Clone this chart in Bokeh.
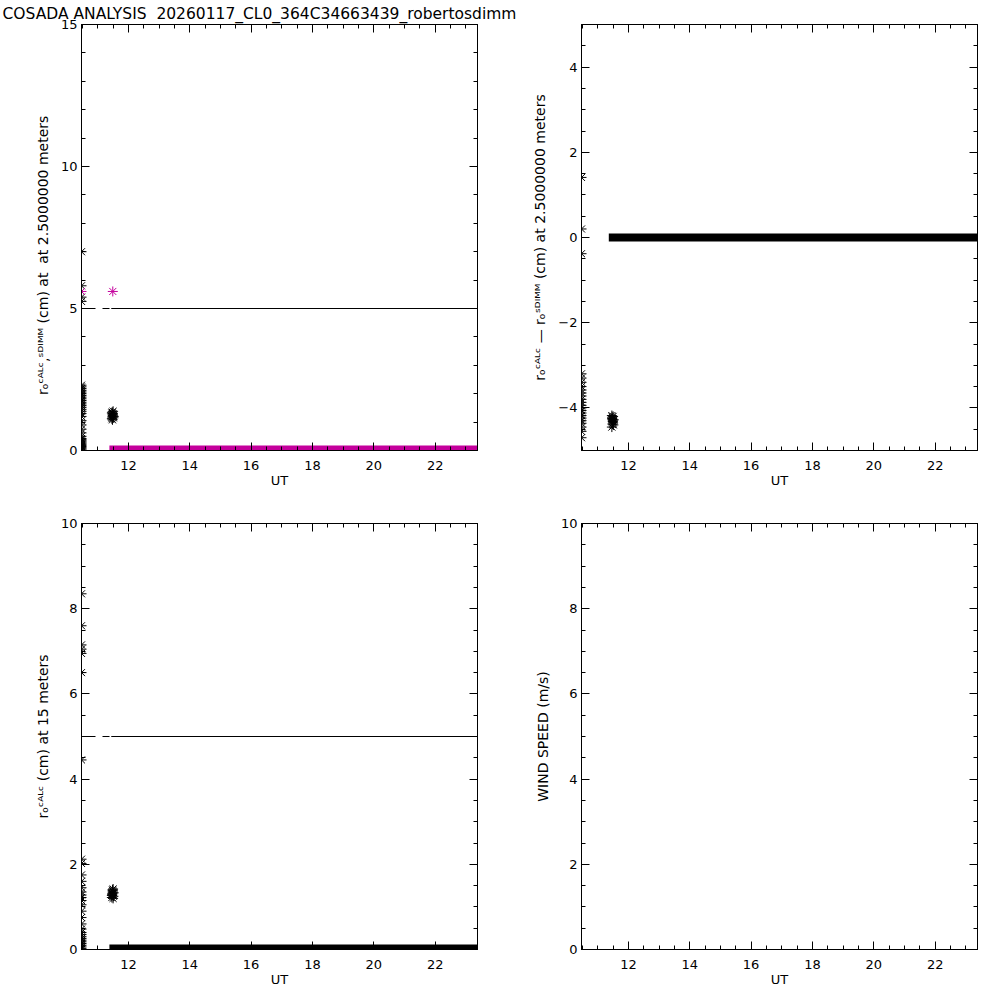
from bokeh.plotting import figure
from bokeh.models import Range1d, LinearAxis, SingleIntervalTicker
from bokeh.layouts import gridplot
from bokeh.embed import file_html
from bokeh.resources import INLINE

# ---------------- data ----------------
TITLE = "COSADA ANALYSIS\u00a0 20260117_CL0_364C34663439_robertosdimm"
UT_MIN, UT_MAX = 10.47, 23.38
THRESHOLD = 5.0
thr_dash_ut = [10.47, 11.44]
thr_solid_ut = [11.44, 23.38]

YLABEL_1 = ("r\u2092\u1d9c\u1d2c\u1d38\u1d9c,\u02e2\u1d30\u1d35\u1d39\u1d39 (cm) at\u00a0 at 2.5000000 meters"
            + "\u00a0" * 8)
YLABEL_2 = "r\u2092\u1d9c\u1d2c\u1d38\u1d9c \u2014 r\u2092\u02e2\u1d30\u1d35\u1d39\u1d39 (cm) at 2.5000000 meters"
YLABEL_3 = "r\u2092\u1d9c\u1d2c\u1d38\u1d9c (cm) at 15 meters"
YLABEL_4 = "WIND SPEED (m/s)"
XLABEL = "UT"

# panel 1: r0 CALC,SDIMM at 2.5 m
p1_edge_black_y = [0.02, 0.06, 0.10, 0.14, 0.18, 0.22, 0.26, 0.30, 0.34, 0.38, 0.42,
                   0.50, 0.62, 0.75, 0.90, 1.05, 1.20, 1.30, 1.38, 1.45, 1.52, 1.58,
                   1.64, 1.70, 1.76, 1.82, 1.88, 1.94, 2.00, 2.06, 2.12, 2.18, 2.24,
                   2.30, 5.25, 5.40, 5.80, 7.00]
p1_edge_magenta_y = [5.60]
cluster_ut = [11.46, 11.47, 11.48, 11.49, 11.50, 11.51, 11.47, 11.49, 11.50, 11.48, 11.52, 11.46]
p1_cluster_y = [1.12, 1.18, 1.25, 1.30, 1.22, 1.15, 1.35, 1.28, 1.38, 1.08, 1.20, 1.32]
p1_magenta_ut = [11.49]
p1_magenta_y = [5.60]
p1_band_ut = [11.38, 23.38]
p1_band_y = [0.0, 0.0]

# panel 2: r0 CALC - r0 SDIMM
p2_edge_y = [1.41, 0.20, -0.38, -3.20, -3.30, -3.40, -3.50, -3.58, -3.65, -3.72, -3.80,
             -3.87, -3.94, -4.00, -4.06, -4.12, -4.18, -4.24, -4.30, -4.36, -4.45,
             -4.55, -4.70]
p2_cluster_y = [-4.18, -4.22, -4.27, -4.30, -4.35, -4.40, -4.25, -4.32, -4.20, -4.38, -4.28, -4.45]
p2_band_ut = [11.36, 23.38]
p2_band_y = [0.0, 0.0]

# panel 3: r0 CALC at 15 m
p3_edge_y = [0.02, 0.06, 0.10, 0.14, 0.18, 0.22, 0.26, 0.30, 0.35, 0.40, 0.48, 0.60,
             0.75, 0.90, 1.05, 1.15, 1.22, 1.28, 1.35, 1.45, 1.60, 1.75, 2.02, 2.12,
             4.45, 6.50, 6.95, 7.05, 7.15, 7.60, 8.35]
p3_cluster_y = [1.22, 1.28, 1.32, 1.38, 1.42, 1.25, 1.30, 1.35, 1.20, 1.40, 1.33, 1.27]
p3_band_ut = [11.38, 23.38]
p3_band_y = [0.0, 0.0]

# panel 4: wind speed (no data)
wind_ut = []
wind_speed = []

MAGENTA = "#C4009C"
FONT = "DejaVu Sans"


def style_ticks(ax):
    ax.major_tick_in = 8
    ax.major_tick_out = 0
    ax.minor_tick_in = 4
    ax.minor_tick_out = 0
    ax.axis_line_color = "black"
    ax.major_tick_line_color = "black"
    ax.minor_tick_line_color = "black"


def make_fig(yr, y_interval, y_minor, ylabel, left, right, top, bottom):
    p = figure(frame_width=396, frame_height=426, output_backend="svg",
               toolbar_location=None, x_range=Range1d(UT_MIN, UT_MAX),
               y_range=Range1d(*yr), min_border_left=left, min_border_right=right,
               min_border_top=top, min_border_bottom=bottom,
               background_fill_color="white", border_fill_color="white")
    p.grid.visible = False
    p.outline_line_color = "black"
    p.xaxis.ticker = SingleIntervalTicker(interval=2, num_minor_ticks=4)
    p.yaxis.ticker = SingleIntervalTicker(interval=y_interval, num_minor_ticks=y_minor)
    for ax in (p.xaxis[0], p.yaxis[0]):
        style_ticks(ax)
        ax.major_label_text_font = FONT
        ax.major_label_text_font_size = "13px"
        ax.major_label_text_color = "black"
        ax.axis_label_text_font = FONT
        ax.axis_label_text_font_style = "normal"
        ax.axis_label_text_color = "black"
    p.xaxis.major_label_standoff = 10
    p.yaxis.major_label_standoff = 4
    p.xaxis.axis_label = XLABEL
    p.xaxis.axis_label_text_font_size = "13px"
    p.xaxis.axis_label_standoff = 0
    p.yaxis.axis_label = ylabel
    p.yaxis.axis_label_text_font_size = "14px"
    p.yaxis.axis_label_standoff = 7
    for side, (iv, nm) in (("above", (2, 4)), ("right", (y_interval, y_minor))):
        ax = LinearAxis(ticker=SingleIntervalTicker(interval=iv, num_minor_ticks=nm))
        style_ticks(ax)
        ax.major_label_text_font_size = "1px"
        ax.major_label_text_color = None
        ax.major_label_text_alpha = 0
        ax.major_label_standoff = 0
        p.add_layout(ax, side)
    return p


def stars(p, x, y, color):
    p.scatter(x, y, marker="x", size=10, line_color=color, line_width=1)
    p.scatter(x, y, marker="cross", size=10, line_color=color, line_width=1)


def threshold(p):
    p.line(thr_dash_ut, [THRESHOLD, THRESHOLD], line_color="black", line_width=1,
           line_dash="14 7 7 3")
    p.line(thr_solid_ut, [THRESHOLD, THRESHOLD], line_color="black", line_width=1)


# ---------- panel 1 ----------
p1 = make_fig((0, 15), 5, 5, YLABEL_1, 81, 49, 24, 57)
p1.title.text = TITLE
p1.title.align = "left"
p1.title.offset = -79
p1.title.standoff = 4
p1.title.text_font = FONT
p1.title.text_font_size = "15.5px"
p1.title.text_font_style = "normal"
p1.title.text_color = "black"
threshold(p1)
p1.line(p1_band_ut, p1_band_y, line_color=MAGENTA, line_width=10)
stars(p1, [UT_MIN] * len(p1_edge_black_y), p1_edge_black_y, "black")
stars(p1, [UT_MIN] * len(p1_edge_magenta_y), p1_edge_magenta_y, MAGENTA)
stars(p1, cluster_ut, p1_cluster_y, "black")
stars(p1, p1_magenta_ut, p1_magenta_y, MAGENTA)

# ---------- panel 2 ----------
p2 = make_fig((-5, 5), 2, 4, YLABEL_2, 55, 15, 24, 57)
p2.line(p2_band_ut, p2_band_y, line_color="black", line_width=8)
stars(p2, [UT_MIN] * len(p2_edge_y), p2_edge_y, "black")
stars(p2, cluster_ut, p2_cluster_y, "black")

# ---------- panel 3 ----------
p3 = make_fig((0, 10), 2, 4, YLABEL_3, 81, 49, 16, 43)
threshold(p3)
p3.line(p3_band_ut, p3_band_y, line_color="black", line_width=10)
stars(p3, [UT_MIN] * len(p3_edge_y), p3_edge_y, "black")
stars(p3, cluster_ut, p3_cluster_y, "black")

# ---------- panel 4 ----------
p4 = make_fig((0, 10), 2, 4, YLABEL_4, 55, 15, 16, 43)
if wind_ut:
    stars(p4, wind_ut, wind_speed, "black")

grid = gridplot([[p1, p2], [p3, p4]], toolbar_location=None)
open("out.html", "w").write(file_html(grid, INLINE))
